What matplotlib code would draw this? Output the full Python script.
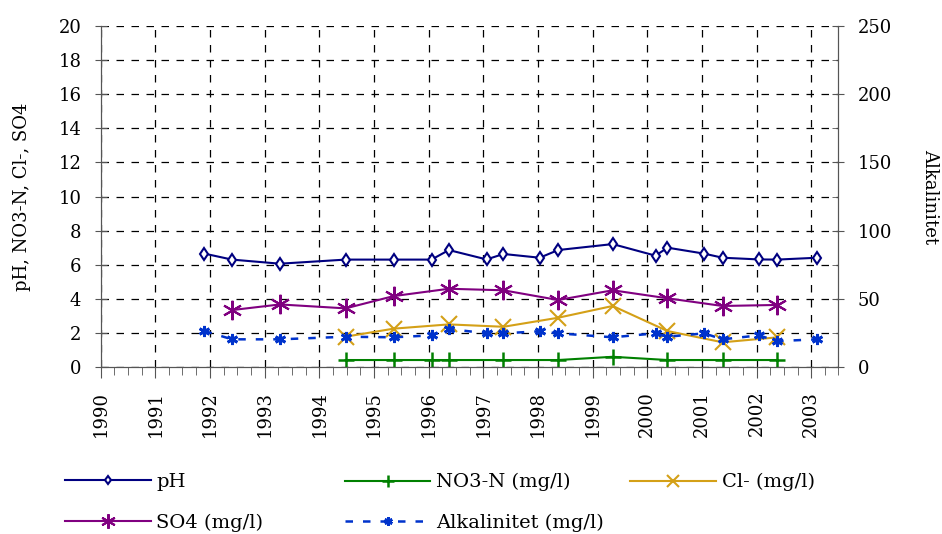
import datetime as dt
import matplotlib
matplotlib.use("Agg")
import matplotlib.pyplot as plt
import matplotlib.dates as mdates

plt.rcParams['font.family'] = ['DejaVu Serif']

def d(s):
    return dt.datetime.strptime(s, '%Y-%m-%d')

# pH and alkalinity sampling dates
dates_all = [d(s) for s in ['1991-11-25', '1992-05-27', '1993-04-12', '1994-06-25', '1995-05-12',
                            '1996-01-20', '1996-05-15', '1997-01-22', '1997-05-15', '1998-01-12',
                            '1998-05-15', '1999-05-15', '2000-02-25', '2000-05-15', '2001-01-15',
                            '2001-05-18', '2002-01-15', '2002-05-18', '2003-02-10']]
ph = [6.65, 6.3, 6.06, 6.3, 6.3, 6.3, 6.86, 6.31, 6.63, 6.41, 6.86, 7.21, 6.53, 7.0,
      6.65, 6.41, 6.31, 6.3, 6.41]
alk = [26.4, 20.3, 20.3, 22.2, 21.8, 23.2, 27.9, 24.7, 24.7, 26.2, 24.7, 21.8, 24.7, 22.2,
       24.7, 20.3, 23.2, 19.0, 20.3]

# SO4
dates_so4 = [d(s) for s in ['1992-05-27', '1993-04-12', '1994-06-25', '1995-05-12', '1996-05-15',
                            '1997-05-15', '1998-05-15', '1999-05-15', '2000-05-15', '2001-05-18',
                            '2002-05-18']]
so4 = [3.34, 3.67, 3.44, 4.16, 4.59, 4.5, 3.93, 4.5, 4.03, 3.58, 3.64]

# Cl-
dates_cl = [d(s) for s in ['1994-06-25', '1995-05-12', '1996-05-15', '1997-05-15', '1998-05-15',
                           '1999-05-15', '2000-05-15', '2001-05-18', '2002-05-18']]
cl = [1.78, 2.25, 2.5, 2.36, 2.89, 3.58, 2.11, 1.45, 1.74]

# NO3-N
dates_no3 = [d(s) for s in ['1994-06-25', '1995-05-12', '1996-01-20', '1996-05-15', '1997-05-15',
                            '1998-05-15', '1999-05-15', '2000-05-15', '2001-05-18', '2002-05-18']]
no3 = [0.41, 0.41, 0.41, 0.41, 0.41, 0.41, 0.6, 0.41, 0.41, 0.41]

fig = plt.figure(figsize=(9.42, 5.34), dpi=100)
ax = fig.add_axes([0.107, 0.3127, 0.783, 0.6386])
ax2 = ax.twinx()

asterisk = (6, 2, 0)
l_ph, = ax.plot(dates_all, ph, color='#000080', lw=1.5, marker='d', ms=6,
                mfc='white', mec='#000080', mew=1.5, label='pH')
l_no3, = ax.plot(dates_no3, no3, color='#008000', lw=1.5, marker='+', ms=12,
                 mew=1.8, label='NO3-N (mg/l)')
l_cl, = ax.plot(dates_cl, cl, color='#D4A017', lw=1.5, marker='x', ms=11,
                mew=1.5, label='Cl- (mg/l)')
l_so4, = ax.plot(dates_so4, so4, color='#800080', lw=1.5, marker=asterisk, ms=14,
                 mew=1.5, label='SO4 (mg/l)')
l_alk, = ax2.plot(dates_all, alk, color='#0033CC', lw=1.8, ls=(0, (3, 4)),
                  marker=asterisk, ms=8, mew=2, label='Alkalinitet (mg/l)')

ax.set_xlim(d('1990-01-01'), d('2003-07-01'))
ax.set_ylim(0, 20)
ax2.set_ylim(0, 250)
ax.set_yticks(range(0, 21, 2))
ax2.set_yticks(range(0, 251, 50))
ax2.set_yticks(range(25, 251, 50), minor=True)

ax.xaxis.set_major_locator(mdates.YearLocator())
ax.xaxis.set_minor_locator(mdates.MonthLocator(bymonth=[4, 7, 10]))
ax.xaxis.set_major_formatter(mdates.DateFormatter('%Y'))
for lab in ax.get_xticklabels():
    lab.set_rotation(90)

ax.grid(True, which='major', color='black', ls=(0, (6, 6)), lw=0.9)
ax.set_axisbelow(True)
for a in (ax, ax2):
    a.spines['top'].set_visible(False)
    for s in a.spines.values():
        s.set_color('#555555')
ax.tick_params(axis='y', direction='inout', length=8, labelsize=13, pad=10, color='#555555')
ax.tick_params(axis='x', which='major', direction='out', length=8, labelsize=13, pad=9,
               color='#555555')
ax.tick_params(axis='x', which='minor', direction='out', length=6, color='#555555')
ax2.tick_params(axis='y', which='major', direction='inout', length=8, labelsize=13, pad=10,
                color='#555555')
ax2.tick_params(axis='y', which='minor', direction='in', length=4, color='#555555')

ax.set_ylabel('pH, NO3-N, Cl-, SO4', fontsize=13, labelpad=20)
ax2.set_ylabel('Alkalinitet', fontsize=13, rotation=270, labelpad=34)

# legend: three columns placed at fixed x positions
cols = [([l_ph, l_so4], 0.069), ([l_no3, l_alk], 0.366), ([l_cl], 0.669)]
for hs, x0 in cols:
    fig.legend(hs, [h.get_label() for h in hs], loc='upper left',
               bbox_to_anchor=(x0, 0.114), frameon=False, fontsize=14,
               handlelength=4.4, labelspacing=1.16, handletextpad=0.3,
               borderpad=0, borderaxespad=0, markerscale=0.75)

fig.savefig('out.png', dpi=100)
